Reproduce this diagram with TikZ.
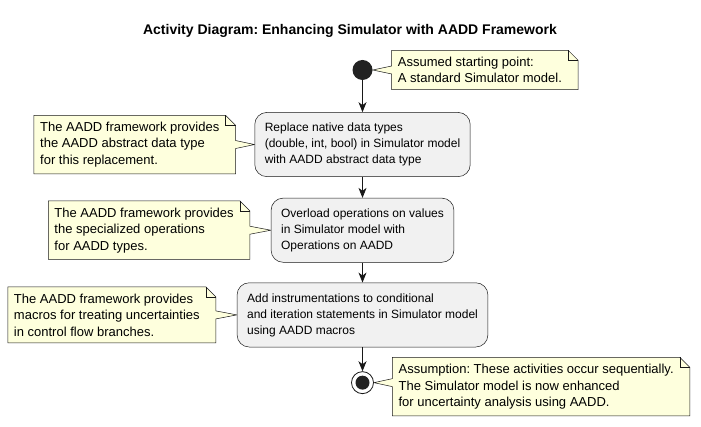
\documentclass[tikz,border=0pt]{standalone}
\usepackage{fontspec}
\setmainfont{Liberation Sans}
\frenchspacing
\usetikzlibrary{positioning,arrows.meta,calc,backgrounds}
\definecolor{notebg}{HTML}{FEFFDD}
\definecolor{actbg}{HTML}{F1F1F1}
\definecolor{umlline}{HTML}{181818}
\definecolor{dot}{HTML}{222222}

% note outline with folded corner, pointer on the right edge
\newcommand{\noteR}[2]{%
  \begin{scope}[on background layer]
  \draw[noteline] (#1.north west) -- (#1.north east) -- ($(#1.north east)+(10,-10)$)
    -- ($(#1.east|-#2)+(10,4)$) -- (#2) -- ($(#1.east|-#2)+(10,-4)$)
    -- ($(#1.south east)+(10,0)$) -- (#1.south west) -- cycle;
  \draw[noteline,fill=none] (#1.north east) |- ($(#1.north east)+(10,-10)$);
  \end{scope}}
% same, pointer on the left edge
\newcommand{\noteL}[2]{%
  \begin{scope}[on background layer]
  \draw[noteline] (#1.north west) -- (#1.north east) -- ($(#1.north east)+(10,-10)$)
    -- ($(#1.south east)+(10,0)$) -- (#1.south west)
    -- ($(#1.west|-#2)+(0,-4)$) -- (#2) -- ($(#1.west|-#2)+(0,4)$) -- cycle;
  \draw[noteline,fill=none] (#1.north east) |- ($(#1.north east)+(10,-10)$);
  \end{scope}}

\begin{document}
\begin{tikzpicture}[x=1pt,y=1pt,>={Stealth[length=10pt,width=8pt,inset=3pt]},
   act/.style={draw=umlline,line width=0.5pt,fill=actbg,rounded corners=12pt,
     align=left,inner xsep=10pt,inner ysep=10.5pt,font=\fontsize{12}{16}\selectfont},
   note/.style={inner xsep=6pt,inner ysep=6.5pt,align=left,
     font=\fontsize{13}{16.5}\selectfont},
   noteline/.style={draw=umlline,line width=0.5pt,fill=notebg},
   startdot/.style={circle,fill=dot,minimum size=20pt,inner sep=0pt},
   stopring/.style={circle,draw=umlline,line width=0.8pt,fill=white,minimum size=22pt,
     inner sep=0pt,path picture={\fill[dot] (path picture bounding box.center) circle (7pt);}},
   flow/.style={->,draw=umlline,line width=0.8pt}]
  \useasboundingbox (0,0) rectangle (701,427);
  \node[font=\bfseries\fontsize{14}{16}\selectfont] (title) at (350,396)
    {Activity Diagram: Enhancing Simulator with AADD Framework};
  \node[startdot] (start) at (362.5,357) {};
  \node[act] (act1) [below=32pt of start] {Replace native data types\\(double, int, bool) in Simulator model\\with AADD abstract data type};
  \node[act] (act2) [below=21pt of act1] {Overload operations on values\\in Simulator model with\\Operations on AADD};
  \node[act] (act3) [below=20pt of act2] {Add instrumentations to conditional\\and iteration statements in Simulator model\\using AADD macros};
  \node[stopring] (stop) [below=24pt of act3] {};
  \node[note] (n1) [right=19pt of start] {Assumed starting point:\\A standard Simulator model.};
  \node[note] (n2) [left=29pt of act1] {The AADD framework provides\\the AADD abstract data type\\for this replacement.};
  \node[note] (n3) [left=31pt of act2] {The AADD framework provides\\the specialized operations\\for AADD types.};
  \node[note] (n4) [left=31pt of act3] {The AADD framework provides\\macros for treating uncertainties\\in control flow branches.};
  \node[note] (n5) [right=18.5pt of stop,yshift=-4pt] {Assumption: These activities occur sequentially.\\The Simulator model is now enhanced\\for uncertainty analysis using AADD.};
  \noteL{n1}{start.east}
  \noteR{n2}{act1.west}
  \noteR{n3}{act2.west}
  \noteR{n4}{act3.west}
  \noteL{n5}{stop.east}
  \draw[flow] (start) -- (act1);
  \draw[flow] (act1) -- (act2);
  \draw[flow] (act2) -- (act3);
  \draw[flow] (act3) -- (stop);
\end{tikzpicture}
\end{document}
